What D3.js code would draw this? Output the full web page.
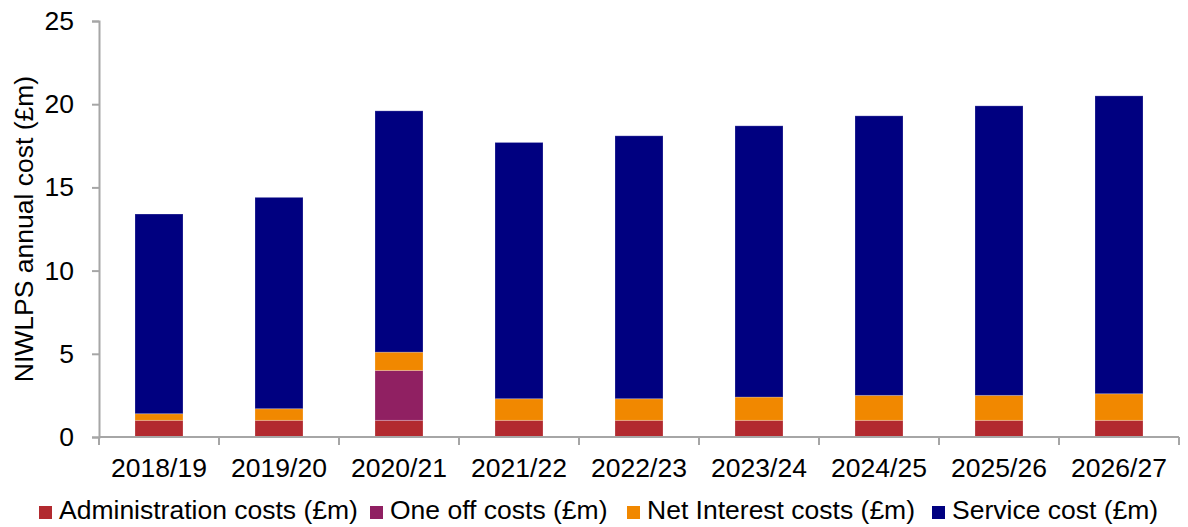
<!DOCTYPE html>
<html>
<head>
<meta charset="utf-8">
<script src="https://cdn.jsdelivr.net/npm/d3@7"></script>
<style>
  html, body { margin: 0; padding: 0; background: #fff; }
  svg { display: block; }
  text { font-family: "Liberation Sans", Arial, sans-serif; fill: #000; }
</style>
</head>
<body>
<svg id="chart" width="1188" height="527"></svg>
<script>
// NIWLPS annual cost by year, stacked by cost component (£m)
const categories = ["2018/19", "2019/20", "2020/21", "2021/22", "2022/23", "2023/24", "2024/25", "2025/26", "2026/27"];
const adminCosts = [1.0, 1.0, 1.0, 1.0, 1.0, 1.0, 1.0, 1.0, 1.0];
const oneOffCosts = [0, 0, 3.0, 0, 0, 0, 0, 0, 0];
const netInterestCosts = [0.4, 0.7, 1.1, 1.3, 1.3, 1.4, 1.5, 1.5, 1.6];
const serviceCost = [12.0, 12.7, 14.5, 15.4, 15.8, 16.3, 16.8, 17.4, 17.9];
const seriesNames = ["Administration costs (£m)", "One off costs (£m)", "Net Interest costs (£m)", "Service cost (£m)"];
const yTicks = [0, 5, 10, 15, 20, 25];

const colors = ["#B22A2F", "#902062", "#F18800", "#000080"];
const seriesValues = [adminCosts, oneOffCosts, netInterestCosts, serviceCost];
const fontSize = "26.5px";

const rows = categories.map((c, i) => {
  const r = { cat: c };
  seriesNames.forEach((s, k) => { r[s] = seriesValues[k][i]; });
  return r;
});
const stacked = d3.stack().keys(seriesNames)(rows);

const svg = d3.select("#chart");
const plotLeft = 99, plotRight = 1179, plotTop = 21, plotBottom = 437;

const x = d3.scaleBand().domain(categories).range([plotLeft, plotRight]).paddingInner(0.6).paddingOuter(0.3);
const xTickScale = d3.scaleBand().domain(categories).range([plotLeft, plotRight]);
const y = d3.scaleLinear().domain([0, 25]).range([plotBottom, plotTop]);

const axisColor = "#A6A6A6";

// bars
svg.append("g").selectAll("g").data(stacked).join("g")
  .attr("fill", (d, i) => colors[i])
  .selectAll("rect").data(d => d.filter(p => p[1] - p[0] > 0)).join("rect")
  .attr("x", d => x(d.data.cat))
  .attr("width", x.bandwidth())
  .attr("y", d => y(d[1]))
  .attr("height", d => y(d[0]) - y(d[1]))
  .attr("stroke", "rgba(255,255,255,0.22)")
  .attr("stroke-width", 1);

// y axis
const yAxis = svg.append("g").attr("transform", `translate(${plotLeft},0)`)
  .call(d3.axisLeft(y).tickValues(yTicks).tickSize(7).tickPadding(18).tickFormat(d3.format("d")));
yAxis.select(".domain").attr("stroke", axisColor).attr("stroke-width", 2);
yAxis.selectAll(".tick line").attr("stroke", axisColor).attr("stroke-width", 2);
yAxis.selectAll(".tick text").style("font-size", fontSize).attr("fill", "#000")
  .style("font-family", '"Liberation Sans", Arial, sans-serif');

// x axis: ticks sit on the category boundaries
const xg = svg.append("g").attr("transform", `translate(0,${plotBottom})`);
xg.append("line").attr("x1", plotLeft).attr("x2", plotRight).attr("y1", 0).attr("y2", 0)
  .attr("stroke", axisColor).attr("stroke-width", 2);
const boundaries = categories.map(c => xTickScale(c)).concat([plotRight]);
xg.selectAll("line.tk").data(boundaries).join("line").attr("class", "tk")
  .attr("x1", d => d).attr("x2", d => d).attr("y1", 0).attr("y2", 8)
  .attr("stroke", axisColor).attr("stroke-width", 2);
xg.selectAll("text").data(categories).join("text")
  .attr("x", d => xTickScale(d) + xTickScale.bandwidth() / 2)
  .attr("y", 40)
  .attr("text-anchor", "middle")
  .style("font-size", fontSize)
  .text(d => d);

// y axis title
svg.append("text")
  .attr("transform", `translate(33,${(plotTop + plotBottom) / 2}) rotate(-90)`)
  .attr("text-anchor", "middle")
  .style("font-size", fontSize)
  .text("NIWLPS annual cost (£m)");

// legend
const legendX = [39, 370, 627, 932];
const lg = svg.append("g").selectAll("g").data(seriesNames).join("g")
  .attr("transform", (d, i) => `translate(${legendX[i]},0)`);
lg.append("rect").attr("x", 0).attr("y", 506).attr("width", 13).attr("height", 13)
  .attr("fill", (d, i) => colors[i]);
lg.append("text").attr("x", 20).attr("y", 519).style("font-size", fontSize).text(d => d);
</script>
</body>
</html>
